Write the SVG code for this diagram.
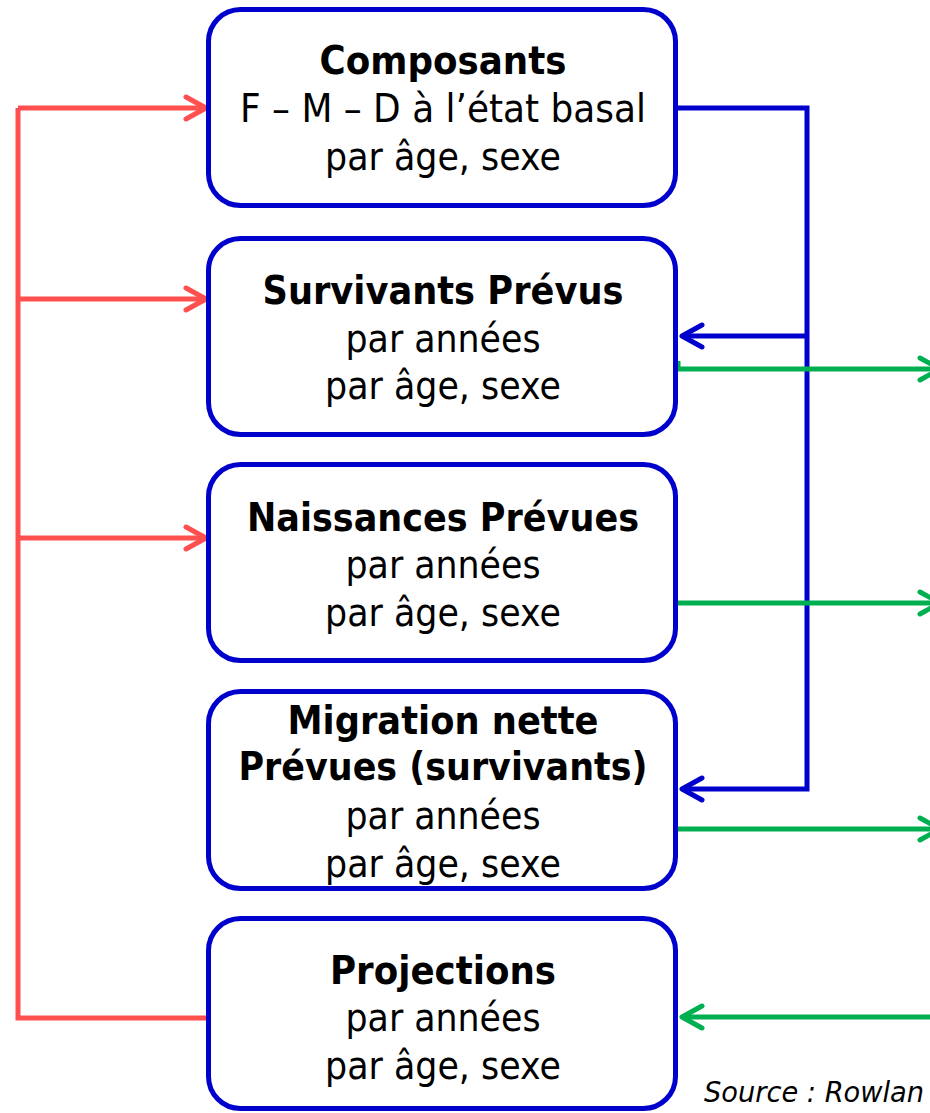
<svg xmlns="http://www.w3.org/2000/svg" width="930" height="1113" viewBox="0 0 930 1113">
<style>
.box{fill:#fff;stroke:#0000CC;stroke-width:5}
.t{font-family:"DejaVu Sans","Liberation Sans",sans-serif;font-size:39px;fill:#000;text-anchor:middle}
.b{font-weight:bold}
.red{fill:none;stroke:#FF5050;stroke-width:5}
.blue{fill:none;stroke:#0000CC;stroke-width:5}
.green{fill:none;stroke:#00B050;stroke-width:5}
.src{font-family:"DejaVu Sans","Liberation Sans",sans-serif;font-size:29px;font-style:italic;fill:#000}
</style>
<defs>
<marker id="mr" markerUnits="userSpaceOnUse" viewBox="0 0 26 28" refX="23" refY="14" markerWidth="26" markerHeight="28" orient="auto"><path d="M3,3 L23,14 L3,25" fill="none" stroke="#FF5050" stroke-width="5" stroke-linecap="round" stroke-linejoin="round"/></marker>
<marker id="mb" markerUnits="userSpaceOnUse" viewBox="0 0 26 28" refX="23" refY="14" markerWidth="26" markerHeight="28" orient="auto"><path d="M3,3 L23,14 L3,25" fill="none" stroke="#0000CC" stroke-width="5" stroke-linecap="round" stroke-linejoin="round"/></marker>
<marker id="mg" markerUnits="userSpaceOnUse" viewBox="0 0 26 28" refX="23" refY="14" markerWidth="26" markerHeight="28" orient="auto"><path d="M3,3 L23,14 L3,25" fill="none" stroke="#00B050" stroke-width="5" stroke-linecap="round" stroke-linejoin="round"/></marker>
</defs>
<g id="connectors">
<path class="red" d="M18,108 V1018 H208"/>
<path class="red" d="M18,108 H206" marker-end="url(#mr)"/>
<path class="red" d="M18,299 H206" marker-end="url(#mr)"/>
<path class="red" d="M18,538 H206" marker-end="url(#mr)"/>
<path class="blue" d="M676,108 H807 V789 H682" marker-end="url(#mb)"/>
<path class="blue" d="M807,336 H682" marker-end="url(#mb)"/>
<path class="green" d="M678,361 V369 H940" marker-end="url(#mg)"/>
<path class="green" d="M678,603 H940" marker-end="url(#mg)"/>
<path class="green" d="M678,829 H940" marker-end="url(#mg)"/>
<path class="green" d="M945,1017 H682" marker-end="url(#mg)"/>
</g>
<g id="composants">
<rect class="box" x="208.5" y="9.5" width="467" height="196" rx="32"/>
<text class="t b" x="443" y="74" textLength="247" lengthAdjust="spacingAndGlyphs">Composants</text>
<text class="t" x="443" y="122" textLength="406" lengthAdjust="spacingAndGlyphs">F – M – D à l’état basal</text>
<text class="t" x="443" y="170" textLength="236" lengthAdjust="spacingAndGlyphs">par âge, sexe</text>
</g>
<g id="survivants">
<rect class="box" x="208.5" y="238.5" width="467" height="196" rx="32"/>
<text class="t b" x="443" y="304" textLength="361" lengthAdjust="spacingAndGlyphs">Survivants Prévus</text>
<text class="t" x="443" y="352" textLength="195" lengthAdjust="spacingAndGlyphs">par années</text>
<text class="t" x="443" y="399" textLength="236" lengthAdjust="spacingAndGlyphs">par âge, sexe</text>
</g>
<g id="naissances">
<rect class="box" x="208.5" y="464.5" width="467" height="196" rx="32"/>
<text class="t b" x="443" y="531" textLength="392" lengthAdjust="spacingAndGlyphs">Naissances Prévues</text>
<text class="t" x="443" y="578" textLength="195" lengthAdjust="spacingAndGlyphs">par années</text>
<text class="t" x="443" y="626" textLength="236" lengthAdjust="spacingAndGlyphs">par âge, sexe</text>
</g>
<g id="migration">
<rect class="box" x="208.5" y="691.5" width="467" height="197" rx="32"/>
<text class="t b" x="443" y="734" textLength="311" lengthAdjust="spacingAndGlyphs">Migration nette</text>
<text class="t b" x="443" y="780" textLength="409" lengthAdjust="spacingAndGlyphs">Prévues (survivants)</text>
<text class="t" x="443" y="829" textLength="195" lengthAdjust="spacingAndGlyphs">par années</text>
<text class="t" x="443" y="877" textLength="236" lengthAdjust="spacingAndGlyphs">par âge, sexe</text>
</g>
<g id="projections">
<rect class="box" x="208.5" y="918.5" width="467" height="190" rx="32"/>
<text class="t b" x="443" y="984" textLength="226" lengthAdjust="spacingAndGlyphs">Projections</text>
<text class="t" x="443" y="1031" textLength="195" lengthAdjust="spacingAndGlyphs">par années</text>
<text class="t" x="443" y="1079" textLength="236" lengthAdjust="spacingAndGlyphs">par âge, sexe</text>
</g>
<text class="src" x="704" y="1102" textLength="220" lengthAdjust="spacingAndGlyphs">Source : Rowlan</text>
</svg>
